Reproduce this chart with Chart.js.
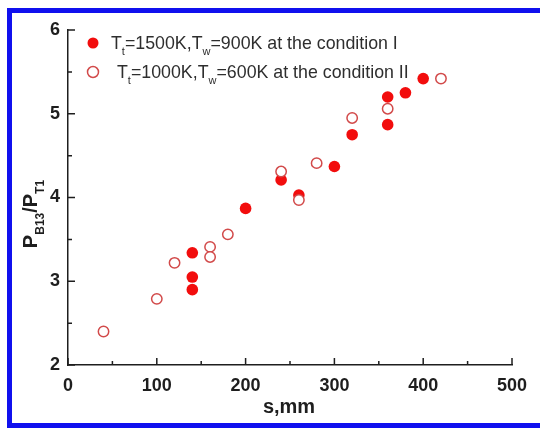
<!DOCTYPE html>
<html>
<head>
<meta charset="utf-8">
<title>P_B13/P_T1 vs s</title>
<script src="https://cdn.jsdelivr.net/npm/chart.js@4.4.1/dist/chart.umd.min.js"></script>
<style>
  html, body { margin: 0; padding: 0; background: #fff; }
  #wrap { position: relative; width: 540px; height: 428px; }
</style>
</head>
<body>
<div id="wrap"><canvas id="ratioChart" width="540" height="428"></canvas></div>
<script>
// --- データ ---
const cond1S = [140, 140, 140, 200, 240, 260, 300, 320, 360, 360, 380, 400];
const cond1Ratio = [3.34, 3.05, 2.90, 3.87, 4.21, 4.03, 4.37, 4.75, 4.87, 5.20, 5.25, 5.42];
const cond2S = [40, 100, 120, 160, 160, 180, 240, 260, 280, 320, 360, 420];
const cond2Ratio = [2.40, 2.79, 3.22, 3.41, 3.29, 3.56, 4.31, 3.97, 4.41, 4.95, 5.06, 5.42];

const xTickValues = [0, 100, 200, 300, 400, 500];
const xMinorValues = [50, 150, 250, 350, 450];
const yTickValues = [2, 3, 4, 5, 6];
const yMinorValues = [2.5, 3.5, 4.5, 5.5];

// 凡例テキスト: [文字列, 下付きかどうか]
const legend1Parts = [['T', false], ['t', true], ['=1500K,T', false], ['w', true], ['=900K at the condition I', false]];
const legend2Parts = [['T', false], ['t', true], ['=1000K,T', false], ['w', true], ['=600K at the condition II', false]];
const yTitleParts = [['P', false], ['B13', true], ['/P', false], ['T1', true]];

const FILL_RED = '#f20d0d';
const OPEN_RED = '#d24a4a';
const AXIS_COLOR = '#1e1e1e';
const FONT = '"Liberation Sans", Arial, sans-serif';

function toPoints(xs, ys) {
    return xs.map((x, i) => ({ x: x, y: ys[i] }));
}

/**
 * 下付き文字を含むテキストを描画する (左端基準)
 */
function drawRichText(ctx, parts, x, y, size, weight, measureOnly) {
    let cx = x;
    parts.forEach(([txt, sub]) => {
        const fs = sub ? Math.round(size * 0.62) : size;
        ctx.font = `${weight} ${fs}px ${FONT}`;
        if (!measureOnly) {
            ctx.fillText(txt, cx, sub ? y + size * 0.36 : y);
        }
        cx += ctx.measureText(txt).width;
    });
    return cx - x;
}

function drawMarker(ctx, x, y, r, filled) {
    ctx.beginPath();
    ctx.arc(x, y, r, 0, Math.PI * 2);
    if (filled) {
        ctx.fillStyle = FILL_RED;
        ctx.fill();
    } else {
        ctx.fillStyle = '#fff';
        ctx.fill();
        ctx.lineWidth = 1.5;
        ctx.strokeStyle = OPEN_RED;
        ctx.stroke();
    }
}

// 背景と青い枠
const framePlugin = {
    id: 'frame',
    beforeDraw(chart) {
        const ctx = chart.ctx;
        ctx.save();
        ctx.fillStyle = '#fff';
        ctx.fillRect(0, 0, chart.width, chart.height);
        ctx.fillStyle = '#1010ee';
        ctx.fillRect(7, 8, 5, 420);     // 左
        ctx.fillRect(7, 8, 533, 5);     // 上
        ctx.fillRect(7, 423, 533, 5);   // 下
        ctx.restore();
    }
};

// 内向きの目盛り、軸タイトル、凡例
const decorPlugin = {
    id: 'decor',
    afterDraw(chart) {
        const ctx = chart.ctx;
        const xs = chart.scales.x;
        const ys = chart.scales.y;
        const area = chart.chartArea;
        ctx.save();
        ctx.strokeStyle = AXIS_COLOR;
        ctx.lineWidth = 1.5;
        ctx.beginPath();
        xTickValues.forEach(v => {
            const px = xs.getPixelForValue(v);
            ctx.moveTo(px, area.bottom); ctx.lineTo(px, area.bottom - 7);
        });
        xMinorValues.forEach(v => {
            const px = xs.getPixelForValue(v);
            ctx.moveTo(px, area.bottom); ctx.lineTo(px, area.bottom - 4);
        });
        yTickValues.forEach(v => {
            const py = ys.getPixelForValue(v);
            ctx.moveTo(area.left, py); ctx.lineTo(area.left + 7, py);
        });
        yMinorValues.forEach(v => {
            const py = ys.getPixelForValue(v);
            ctx.moveTo(area.left, py); ctx.lineTo(area.left + 4, py);
        });
        ctx.stroke();

        // x軸タイトル
        ctx.fillStyle = '#1e1e1e';
        ctx.font = `bold 20px ${FONT}`;
        ctx.textAlign = 'center';
        ctx.textBaseline = 'alphabetic';
        ctx.fillText('s,mm', 289, 413);

        // y軸タイトル (回転)
        ctx.textAlign = 'left';
        ctx.save();
        ctx.translate(37, 214);
        ctx.rotate(-Math.PI / 2);
        const w = drawRichText(ctx, yTitleParts, 0, 0, 20, 'bold', true);
        drawRichText(ctx, yTitleParts, -w / 2, 0, 20, 'bold', false);
        ctx.restore();

        // 凡例
        drawMarker(ctx, 93, 43, 5.5, true);
        drawMarker(ctx, 93, 72, 5.5, false);
        ctx.fillStyle = '#2e2e2e';
        drawRichText(ctx, legend1Parts, 111, 49, 17.8, 'normal', false);
        drawRichText(ctx, legend2Parts, 117, 78, 17.8, 'normal', false);
        ctx.restore();
    }
};

function renderRatioChart() {
    const canvas = document.getElementById('ratioChart');
    const ctx = canvas.getContext('2d');

    const config = {
        type: 'scatter',
        data: {
            datasets: [
                {
                    label: 'condition II',
                    data: toPoints(cond2S, cond2Ratio),
                    pointRadius: 5.2,
                    pointBackgroundColor: '#fff',
                    pointBorderColor: OPEN_RED,
                    pointBorderWidth: 1.5,
                },
                {
                    label: 'condition I',
                    data: toPoints(cond1S, cond1Ratio),
                    pointRadius: 5.8,
                    pointBackgroundColor: FILL_RED,
                    pointBorderColor: FILL_RED,
                    pointBorderWidth: 0,
                }
            ]
        },
        options: {
            responsive: false,
            animation: false,
            events: [],
            layout: { padding: { top: 30, right: 28, left: 0, bottom: 0 } },
            plugins: {
                legend: { display: false },
                tooltip: { enabled: false },
                title: { display: false }
            },
            scales: {
                x: {
                    type: 'linear',
                    min: 0,
                    max: 500,
                    afterFit(scale) { scale.height = 63; },
                    afterBuildTicks(scale) { scale.ticks = xTickValues.map(v => ({ value: v })); },
                    grid: { display: true, drawOnChartArea: false, drawTicks: false },
                    border: { display: true, color: AXIS_COLOR, width: 1.5 },
                    ticks: {
                        padding: 10,
                        color: '#1e1e1e',
                        font: { family: FONT, size: 18, weight: 'bold' }
                    }
                },
                y: {
                    type: 'linear',
                    min: 2,
                    max: 6,
                    afterFit(scale) { scale.width = 68; },
                    afterBuildTicks(scale) { scale.ticks = yTickValues.map(v => ({ value: v })); },
                    grid: { display: true, drawOnChartArea: false, drawTicks: false },
                    border: { display: true, color: AXIS_COLOR, width: 1.5 },
                    ticks: {
                        padding: 8,
                        color: '#1e1e1e',
                        font: { family: FONT, size: 18, weight: 'bold' }
                    }
                }
            }
        },
        plugins: [framePlugin, decorPlugin]
    };

    new Chart(ctx, config);
}

document.addEventListener('DOMContentLoaded', renderRatioChart);
</script>
</body>
</html>
